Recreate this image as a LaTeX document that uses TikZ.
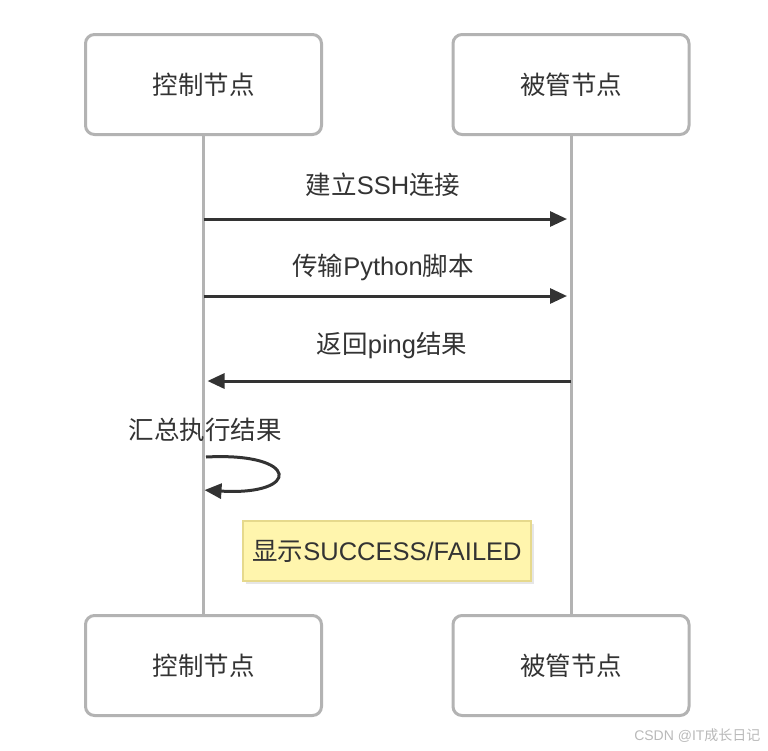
\documentclass[tikz,border=0pt]{standalone}
\usepackage{fontspec}
\setmainfont{Liberation Sans}
\newfontfamily\cjk{Noto Sans CJK SC}
\newcommand{\zh}[1]{{\cjk #1}}
\usetikzlibrary{arrows.meta,shadows}
\definecolor{txtgray}{HTML}{333333}
\definecolor{linegray}{HTML}{B3B3B3}
\definecolor{notefill}{HTML}{FFF5AD}
\definecolor{notedraw}{HTML}{E6D98C}
\begin{document}
\begin{tikzpicture}[
    x=1pt, y=-1pt,
    every node/.style={font=\fontsize{25.5}{30}\selectfont, text=txtgray, align=center},
    actor/.style={rectangle, draw=linegray, line width=3pt, rounded corners=9pt, fill=white, minimum width=236pt, minimum height=100pt},
    life/.style={draw=linegray, line width=3pt},
    msg/.style={draw=txtgray, line width=3pt, -{Triangle[length=17pt,width=15pt]}, shorten >=4pt},
    note/.style={rectangle, draw=notedraw, line width=2.5pt, fill=notefill, minimum width=288pt, minimum height=60pt,
        drop shadow={opacity=0.2, shadow xshift=3pt, shadow yshift=-3pt}}
]
\useasboundingbox (0,0) rectangle (768,750);
% lifelines
\draw[life] (203.5,136) -- (203.5,614);
\draw[life] (571,136) -- (571,614);
% actors
\node[actor] (ctrlTop) at (203.5,84.5) {\zh{控制节点}};
\node[actor] (hostTop) at (571,84.5)   {\zh{被管节点}};
\node[actor] (ctrlBot) at (203.5,665.5) {\zh{控制节点}};
\node[actor] (hostBot) at (571,665.5)   {\zh{被管节点}};
% messages
\coordinate (c1) at (203.5,219); \coordinate (h1) at (571,219);
\coordinate (c2) at (203.5,296); \coordinate (h2) at (571,296);
\coordinate (c3) at (203.5,381); \coordinate (h3) at (571,381);
\draw[msg] (c1) -- (h1);
\node (lbl1) at (383,185) {\zh{建立}SSH\zh{连接}};
\draw[msg] (c2) -- (h2);
\node (lbl2) at (383,267) {\zh{传输}Python\zh{脚本}};
\draw[msg] (h3) -- (c3);
\node (lbl3) at (392,345) {\zh{返回}ping\zh{结果}};
% self call
\coordinate (s1) at (206,457);
\coordinate (s2) at (203.5,490);
\node (lbl4) at (205,430) {\zh{汇总执行结果}};
\draw[msg, shorten >=1pt] (s1) .. controls (301,452) and (301,496) .. (s2);
% note
\node[note] (res) at (387,551) {\zh{显示}SUCCESS/FAILED};
% watermark
\node[font=\fontsize{14}{16}\selectfont, text=gray!55, anchor=east] (wm) at (764,736) {CSDN @IT\zh{成长日记}};
\end{tikzpicture}
\end{document}
